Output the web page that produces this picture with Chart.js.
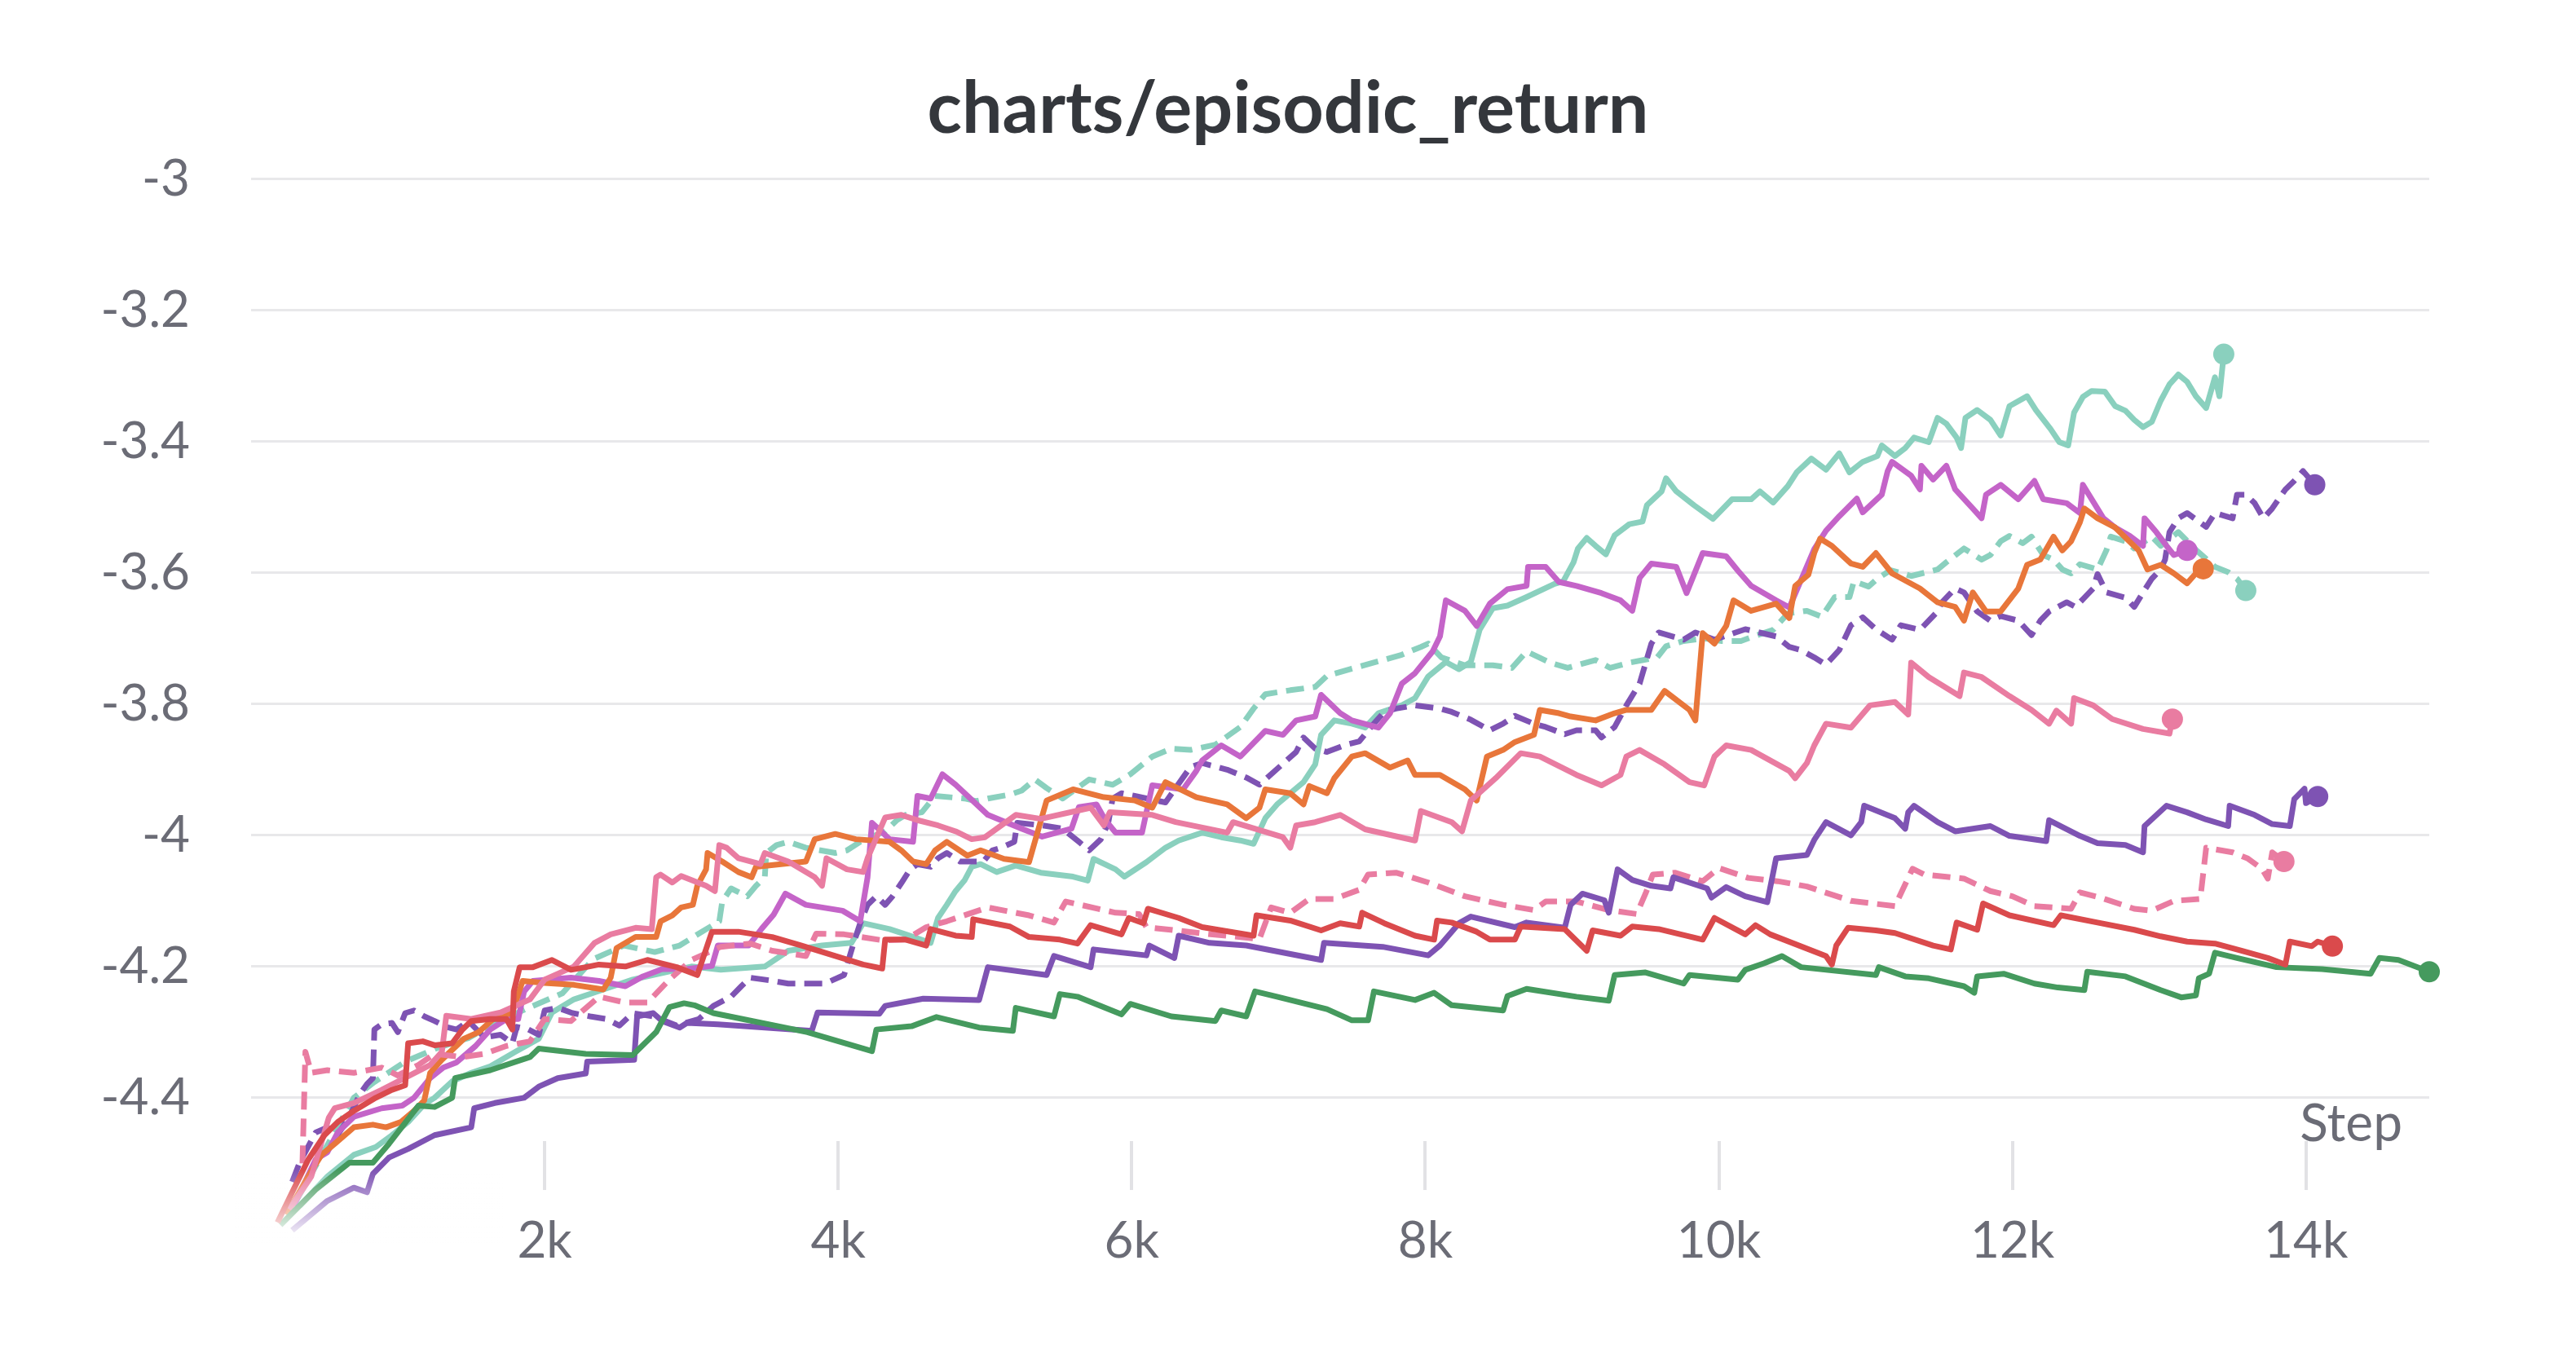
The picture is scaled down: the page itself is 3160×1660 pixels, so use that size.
<!DOCTYPE html>
<html>
<head>
<meta charset="utf-8">
<script src="https://cdn.jsdelivr.net/npm/chart.js@4.4.1/dist/chart.umd.min.js"></script>
<style>
  html, body { margin: 0; padding: 0; background: #ffffff; }
  canvas { display: block; }
</style>
</head>
<body>
<canvas id="chart" width="3160" height="1660"></canvas>
<script>
// [step, episodic return] pairs, one list per run
const tealSolid = [
  [330,-4.565],[520,-4.52],[700,-4.487],[850,-4.475],[960,-4.457],[1070,-4.437],[1180,-4.41],[1250,-4.4],
  [1370,-4.375],[1500,-4.362],[1630,-4.352],[1800,-4.33],[1960,-4.31],[2050,-4.27],[2200,-4.25],[2400,-4.235],
  [2600,-4.22],[2800,-4.21],[3000,-4.2],[3200,-4.205],[3500,-4.2],[3660,-4.176],[3890,-4.168],[4090,-4.164],
  [4170,-4.134],[4350,-4.143],[4460,-4.151],[4630,-4.164],[4680,-4.126],[4740,-4.106],[4800,-4.085],[4860,-4.069],
  [4910,-4.048],[4970,-4.044],[5080,-4.056],[5210,-4.046],[5380,-4.057],[5600,-4.063],[5700,-4.069],[5740,-4.036],
  [5890,-4.052],[5950,-4.063],[6100,-4.041],[6230,-4.019],[6320,-4.008],[6480,-3.996],[6610,-4.003],[6740,-4.008],
  [6830,-4.013],[6910,-3.974],[6990,-3.953],[7170,-3.919],[7250,-3.892],[7290,-3.847],[7380,-3.825],[7500,-3.83],
  [7590,-3.836],[7680,-3.814],[7840,-3.802],[7930,-3.791],[8020,-3.758],[8140,-3.736],[8230,-3.747],[8310,-3.736],
  [8370,-3.687],[8460,-3.654],[8560,-3.65],[8690,-3.637],[8880,-3.617],[8940,-3.613],[9010,-3.584],[9040,-3.563],
  [9100,-3.547],[9160,-3.559],[9230,-3.572],[9290,-3.543],[9390,-3.526],[9480,-3.522],[9510,-3.497],[9610,-3.476],
  [9640,-3.456],[9710,-3.476],[9830,-3.497],[9960,-3.518],[10090,-3.488],[10220,-3.488],[10280,-3.476],[10370,-3.493],
  [10470,-3.468],[10530,-3.447],[10630,-3.426],[10730,-3.443],[10820,-3.418],[10890,-3.447],[10980,-3.431],[11080,-3.422],
  [11110,-3.406],[11200,-3.422],[11270,-3.41],[11330,-3.394],[11430,-3.401],[11490,-3.364],[11550,-3.373],[11620,-3.394],
  [11650,-3.41],[11680,-3.364],[11760,-3.352],[11850,-3.367],[11920,-3.391],[11980,-3.346],[12100,-3.331],[12160,-3.352],
  [12260,-3.381],[12320,-3.401],[12380,-3.406],[12420,-3.356],[12480,-3.332],[12540,-3.323],[12630,-3.324],[12700,-3.346],
  [12770,-3.353],[12830,-3.367],[12890,-3.378],[12950,-3.37],[13010,-3.338],[13070,-3.313],[13130,-3.298],[13190,-3.309],
  [13250,-3.331],[13320,-3.349],[13380,-3.302],[13410,-3.331],[13440,-3.267]
];

const tealDashed = [
  [300,-4.56],[450,-4.5],[600,-4.44],[700,-4.4],[840,-4.376],[1050,-4.345],[1270,-4.324],[1480,-4.309],
  [1690,-4.283],[1900,-4.262],[2120,-4.241],[2330,-4.189],[2540,-4.168],[2750,-4.178],[2920,-4.168],[3050,-4.15],
  [3190,-4.131],[3210,-4.101],[3270,-4.081],[3380,-4.093],[3440,-4.077],[3500,-4.064],[3510,-4.027],[3580,-4.015],
  [3660,-4.01],[3780,-4.019],[3980,-4.027],[4060,-4.023],[4150,-4.01],[4230,-4.002],[4320,-3.994],[4400,-3.977],
  [4460,-3.969],[4570,-3.965],[4660,-3.94],[4860,-3.944],[4940,-3.948],[5020,-3.944],[5170,-3.938],[5250,-3.932],
  [5340,-3.915],[5420,-3.928],[5530,-3.944],[5710,-3.915],[5790,-3.919],[5870,-3.923],[5990,-3.907],[6140,-3.88],
  [6270,-3.868],[6400,-3.87],[6570,-3.862],[6740,-3.835],[6830,-3.807],[6910,-3.785],[7080,-3.779],[7250,-3.774],
  [7330,-3.757],[7500,-3.746],[7680,-3.735],[7840,-3.725],[7970,-3.713],[8020,-3.708],[8110,-3.729],[8270,-3.741],
  [8460,-3.741],[8590,-3.745],[8690,-3.72],[8850,-3.737],[8970,-3.745],[9160,-3.733],[9260,-3.745],[9390,-3.737],
  [9580,-3.729],[9640,-3.712],[9760,-3.704],[9900,-3.7],[10020,-3.704],[10150,-3.704],[10250,-3.696],[10370,-3.687],
  [10470,-3.662],[10600,-3.658],[10700,-3.667],[10790,-3.637],[10890,-3.637],[10920,-3.613],[11020,-3.621],[11080,-3.609],
  [11170,-3.596],[11310,-3.605],[11490,-3.595],[11550,-3.584],[11670,-3.563],[11790,-3.58],[11850,-3.573],[11920,-3.552],
  [11980,-3.544],[12070,-3.555],[12130,-3.545],[12210,-3.573],[12280,-3.58],[12340,-3.595],[12400,-3.601],[12460,-3.587],
  [12580,-3.595],[12640,-3.566],[12670,-3.545],[12770,-3.552],[12830,-3.563],[12950,-3.545],[13010,-3.559],[13130,-3.538],
  [13250,-3.565],[13380,-3.591],[13470,-3.599],[13530,-3.609],[13590,-3.627]
];

const purpleSolid = [
  [280,-4.602],[520,-4.557],[700,-4.537],[790,-4.544],[830,-4.516],[940,-4.491],[1070,-4.478],[1250,-4.457],
  [1500,-4.445],[1520,-4.416],[1660,-4.408],[1860,-4.4],[1960,-4.383],[2090,-4.37],[2280,-4.363],[2290,-4.345],
  [2610,-4.342],[2630,-4.276],[2740,-4.271],[2800,-4.283],[2920,-4.293],[2970,-4.286],[3180,-4.288],[3820,-4.298],
  [3860,-4.27],[4280,-4.272],[4320,-4.26],[4580,-4.249],[4960,-4.251],[5020,-4.201],[5420,-4.213],[5470,-4.184],
  [5720,-4.201],[5740,-4.174],[6100,-4.183],[6120,-4.168],[6290,-4.187],[6320,-4.153],[6530,-4.164],[6780,-4.168],
  [7290,-4.19],[7310,-4.164],[7710,-4.17],[8020,-4.183],[8100,-4.168],[8230,-4.134],[8310,-4.124],[8610,-4.14],
  [8690,-4.133],[8950,-4.141],[8990,-4.106],[9070,-4.089],[9220,-4.099],[9250,-4.118],[9310,-4.052],[9410,-4.068],
  [9540,-4.077],[9670,-4.081],[9690,-4.064],[9920,-4.081],[9950,-4.095],[10050,-4.079],[10180,-4.093],[10330,-4.102],
  [10390,-4.035],[10600,-4.03],[10650,-4.007],[10730,-3.98],[10900,-4.0],[10970,-3.98],[10990,-3.955],[11200,-3.974],
  [11270,-3.99],[11290,-3.965],[11330,-3.955],[11490,-3.98],[11610,-3.994],[11850,-3.986],[11980,-4.001],[12230,-4.009],
  [12250,-3.977],[12460,-4.001],[12580,-4.012],[12770,-4.015],[12890,-4.026],[12900,-3.986],[13050,-3.955],[13190,-3.965],
  [13320,-3.976],[13470,-3.986],[13480,-3.955],[13650,-3.969],[13770,-3.983],[13890,-3.986],[13920,-3.945],[13990,-3.929],
  [14000,-3.951],[14080,-3.941]
];

const purpleDashed = [
  [280,-4.528],[330,-4.499],[440,-4.453],[520,-4.445],[580,-4.46],[670,-4.429],[740,-4.395],[790,-4.379],
  [830,-4.37],[840,-4.296],[890,-4.288],[960,-4.286],[1000,-4.3],[1050,-4.271],[1110,-4.267],[1180,-4.276],
  [1250,-4.283],[1330,-4.292],[1400,-4.296],[1480,-4.283],[1590,-4.308],[1700,-4.304],[1780,-4.317],[1810,-4.292],
  [1890,-4.296],[1960,-4.304],[2000,-4.267],[2090,-4.263],[2190,-4.271],[2310,-4.276],[2420,-4.28],[2510,-4.29],
  [2600,-4.271],[2740,-4.276],[2900,-4.29],[3050,-4.28],[3150,-4.26],[3270,-4.246],[3340,-4.23],[3400,-4.217],
  [3530,-4.221],[3660,-4.226],[3790,-4.226],[3910,-4.226],[4040,-4.213],[4100,-4.168],[4150,-4.134],[4200,-4.106],
  [4260,-4.093],[4320,-4.106],[4370,-4.093],[4430,-4.073],[4490,-4.052],[4540,-4.044],[4630,-4.048],[4680,-4.035],
  [4740,-4.027],[4830,-4.04],[4990,-4.04],[5050,-4.023],[5110,-4.019],[5200,-4.01],[5220,-3.981],[5390,-3.985],
  [5530,-3.99],[5640,-4.01],[5710,-4.023],[5790,-4.006],[5840,-3.981],[5870,-3.944],[5930,-3.936],[6020,-3.94],
  [6230,-3.95],[6400,-3.896],[6480,-3.89],[6650,-3.9],[6780,-3.912],[6870,-3.923],[7120,-3.873],[7170,-3.851],
  [7250,-3.868],[7330,-3.873],[7460,-3.862],[7550,-3.857],[7630,-3.835],[7720,-3.812],[7800,-3.807],[7930,-3.802],
  [8100,-3.807],[8180,-3.812],[8310,-3.824],[8440,-3.84],[8530,-3.83],[8610,-3.818],[8740,-3.83],[8820,-3.835],
  [8950,-3.846],[9030,-3.84],[9160,-3.84],[9200,-3.851],[9290,-3.835],[9370,-3.802],[9460,-3.769],[9540,-3.708],
  [9590,-3.691],[9760,-3.702],[9840,-3.691],[9970,-3.702],[10180,-3.686],[10390,-3.697],[10480,-3.713],[10560,-3.718],
  [10650,-3.729],[10730,-3.74],[10820,-3.718],[10900,-3.68],[10980,-3.668],[11070,-3.686],[11180,-3.702],[11240,-3.68],
  [11370,-3.687],[11490,-3.659],[11520,-3.645],[11610,-3.624],[11670,-3.63],[11760,-3.659],[11850,-3.673],[11920,-3.666],
  [12040,-3.673],[12130,-3.695],[12190,-3.673],[12250,-3.659],[12370,-3.645],[12430,-3.652],[12490,-3.638],[12550,-3.624],
  [12580,-3.602],[12640,-3.63],[12770,-3.638],[12830,-3.652],[12890,-3.63],[12950,-3.609],[13010,-3.595],[13040,-3.58],
  [13070,-3.538],[13130,-3.517],[13190,-3.509],[13320,-3.53],[13380,-3.509],[13500,-3.517],[13530,-3.481],[13590,-3.481],
  [13650,-3.494],[13710,-3.517],[13770,-3.502],[13860,-3.473],[13920,-3.46],[13980,-3.445],[14060,-3.466]
];

const magentaSolid = [
  [290,-4.565],[440,-4.494],[520,-4.483],[590,-4.453],[700,-4.429],[890,-4.416],[1030,-4.412],[1110,-4.4],
  [1220,-4.37],[1310,-4.354],[1400,-4.346],[1530,-4.321],[1630,-4.296],[1740,-4.28],[1820,-4.28],[1860,-4.238],
  [1920,-4.222],[2180,-4.217],[2370,-4.222],[2550,-4.23],[2670,-4.215],[2800,-4.204],[2970,-4.204],[3140,-4.199],
  [3180,-4.168],[3390,-4.168],[3480,-4.142],[3560,-4.121],[3640,-4.089],[3780,-4.106],[4030,-4.115],[4150,-4.131],
  [4200,-4.064],[4230,-3.981],[4350,-4.006],[4510,-4.01],[4540,-3.94],[4630,-3.944],[4710,-3.907],[4800,-3.923],
  [5020,-3.969],[5250,-3.99],[5390,-4.002],[5590,-3.99],[5640,-3.957],[5760,-3.953],[5820,-3.977],[5890,-3.996],
  [6070,-3.996],[6140,-3.924],[6350,-3.93],[6440,-3.902],[6480,-3.886],[6610,-3.863],[6740,-3.88],[6910,-3.841],
  [7030,-3.847],[7120,-3.825],[7250,-3.819],[7290,-3.786],[7420,-3.814],[7500,-3.825],[7680,-3.836],[7760,-3.814],
  [7840,-3.769],[7930,-3.753],[8050,-3.72],[8100,-3.697],[8140,-3.642],[8270,-3.658],[8350,-3.681],[8440,-3.647],
  [8560,-3.625],[8690,-3.62],[8700,-3.591],[8820,-3.591],[8910,-3.614],[9030,-3.62],[9200,-3.631],[9330,-3.642],
  [9410,-3.658],[9460,-3.608],[9540,-3.586],[9710,-3.591],[9780,-3.631],[9890,-3.57],[10050,-3.575],[10130,-3.597],
  [10220,-3.62],[10390,-3.642],[10480,-3.653],[10650,-3.564],[10730,-3.536],[10820,-3.514],[10940,-3.487],[10980,-3.508],
  [11110,-3.481],[11150,-3.445],[11180,-3.431],[11310,-3.452],[11370,-3.473],[11380,-3.437],[11460,-3.458],[11550,-3.437],
  [11610,-3.473],[11730,-3.502],[11790,-3.517],[11820,-3.481],[11920,-3.466],[12040,-3.488],[12150,-3.46],[12210,-3.488],
  [12370,-3.494],[12460,-3.509],[12480,-3.466],[12620,-3.517],[12700,-3.531],[12800,-3.544],[12890,-3.559],[12900,-3.517],
  [12980,-3.538],[13050,-3.559],[13100,-3.573],[13190,-3.566]
];

const orangeSolid = [
  [240,-4.578],[410,-4.512],[480,-4.487],[570,-4.47],[700,-4.445],[830,-4.441],[920,-4.445],[1020,-4.437],
  [1110,-4.42],[1180,-4.404],[1220,-4.362],[1300,-4.342],[1450,-4.31],[1550,-4.3],[1650,-4.28],[1780,-4.27],
  [1850,-4.222],[2000,-4.225],[2200,-4.228],[2400,-4.235],[2450,-4.217],[2490,-4.172],[2620,-4.155],[2760,-4.155],
  [2790,-4.131],[2870,-4.122],[2930,-4.11],[3010,-4.106],[3040,-4.077],[3100,-4.052],[3110,-4.027],[3210,-4.04],
  [3320,-4.056],[3410,-4.064],[3440,-4.048],[3780,-4.04],[3840,-4.006],[3980,-3.998],[4120,-4.006],[4350,-4.01],
  [4430,-4.023],[4510,-4.04],[4600,-4.044],[4660,-4.023],[4740,-4.01],[4880,-4.031],[4970,-4.023],[5130,-4.036],
  [5300,-4.041],[5420,-3.947],[5600,-3.93],[5810,-3.942],[6020,-3.947],[6140,-3.958],[6230,-3.919],[6440,-3.942],
  [6650,-3.953],[6780,-3.974],[6870,-3.958],[6910,-3.93],[7080,-3.936],[7170,-3.953],[7210,-3.925],[7330,-3.936],
  [7380,-3.913],[7500,-3.88],[7590,-3.875],[7760,-3.897],[7880,-3.886],[7930,-3.908],[8100,-3.908],[8270,-3.93],
  [8350,-3.947],[8420,-3.88],[8530,-3.87],[8610,-3.858],[8740,-3.847],[8780,-3.809],[8910,-3.814],[8990,-3.819],
  [9160,-3.825],[9290,-3.814],[9370,-3.809],[9540,-3.809],[9630,-3.78],[9800,-3.809],[9840,-3.825],[9890,-3.692],
  [9970,-3.708],[10050,-3.681],[10100,-3.642],[10220,-3.658],[10390,-3.647],[10480,-3.669],[10520,-3.62],[10610,-3.603],
  [10650,-3.57],[10690,-3.548],[10770,-3.559],[10900,-3.586],[10980,-3.591],[11070,-3.57],[11180,-3.601],[11370,-3.624],
  [11490,-3.645],[11610,-3.652],[11670,-3.673],[11730,-3.63],[11820,-3.659],[11920,-3.659],[12040,-3.624],[12100,-3.588],
  [12190,-3.58],[12280,-3.545],[12340,-3.566],[12400,-3.552],[12460,-3.523],[12490,-3.502],[12580,-3.517],[12700,-3.531],
  [12860,-3.566],[12920,-3.595],[13010,-3.588],[13100,-3.601],[13190,-3.616],[13250,-3.601],[13300,-3.594]
];

const pinkSolid = [
  [260,-4.57],[410,-4.52],[530,-4.43],[570,-4.416],[700,-4.408],[890,-4.388],[1090,-4.365],[1220,-4.35],
  [1300,-4.33],[1330,-4.275],[1500,-4.28],[1700,-4.27],[1900,-4.25],[2000,-4.22],[2200,-4.2],[2340,-4.164],
  [2450,-4.151],[2620,-4.141],[2730,-4.143],[2760,-4.064],[2790,-4.06],[2870,-4.072],[2930,-4.062],[3100,-4.077],
  [3160,-4.085],[3190,-4.015],[3240,-4.019],[3320,-4.035],[3470,-4.044],[3500,-4.027],[3660,-4.04],[3840,-4.064],
  [3890,-4.077],[3920,-4.035],[4060,-4.052],[4170,-4.056],[4200,-4.035],[4320,-3.973],[4430,-3.969],[4540,-3.977],
  [4680,-3.985],[4800,-3.994],[4910,-4.006],[5000,-4.003],[5210,-3.969],[5380,-3.975],[5720,-3.958],[5810,-3.985],
  [5850,-3.965],[6140,-3.969],[6300,-3.98],[6650,-3.996],[6690,-3.98],[7030,-4.003],[7080,-4.019],[7120,-3.985],
  [7250,-3.98],[7420,-3.969],[7590,-3.991],[7930,-4.008],[7970,-3.963],[8180,-3.98],[8250,-3.994],[8310,-3.947],
  [8480,-3.913],[8650,-3.875],[8780,-3.88],[9030,-3.908],[9200,-3.924],[9330,-3.908],[9370,-3.88],[9460,-3.87],
  [9630,-3.892],[9800,-3.919],[9900,-3.924],[9970,-3.88],[10050,-3.863],[10220,-3.87],[10480,-3.902],[10520,-3.913],
  [10600,-3.89],[10650,-3.863],[10730,-3.83],[10900,-3.836],[11030,-3.802],[11200,-3.797],[11290,-3.816],[11310,-3.737],
  [11430,-3.759],[11640,-3.788],[11670,-3.752],[11790,-3.759],[11980,-3.788],[12130,-3.809],[12250,-3.83],[12300,-3.81],
  [12400,-3.83],[12420,-3.791],[12550,-3.802],[12680,-3.823],[12890,-3.838],[13070,-3.845],[13090,-3.823]
];

const pinkDashed = [
  [350,-4.5],[370,-4.33],[410,-4.362],[520,-4.358],[700,-4.362],[890,-4.354],[1000,-4.366],[1140,-4.35],
  [1250,-4.333],[1440,-4.338],[1590,-4.333],[1740,-4.321],[1900,-4.314],[2000,-4.28],[2180,-4.283],[2370,-4.246],
  [2550,-4.255],[2700,-4.255],[2850,-4.22],[3000,-4.19],[3200,-4.17],[3400,-4.165],[3550,-4.176],[3780,-4.184],
  [3850,-4.15],[4040,-4.151],[4300,-4.16],[4460,-4.159],[4600,-4.14],[4740,-4.131],[5020,-4.11],[5300,-4.122],
  [5470,-4.133],[5550,-4.101],[5890,-4.118],[6050,-4.12],[6100,-4.14],[6300,-4.145],[6500,-4.15],[6870,-4.158],
  [6950,-4.11],[7080,-4.118],[7210,-4.097],[7380,-4.097],[7550,-4.083],[7610,-4.06],[7800,-4.057],[8020,-4.072],
  [8270,-4.093],[8530,-4.106],[8740,-4.114],[8820,-4.101],[9030,-4.101],[9250,-4.114],[9440,-4.12],[9500,-4.089],
  [9550,-4.06],[9700,-4.057],[9890,-4.07],[10000,-4.05],[10200,-4.065],[10400,-4.07],[10600,-4.078],[10900,-4.1],
  [11200,-4.108],[11300,-4.06],[11320,-4.051],[11400,-4.06],[11670,-4.066],[11850,-4.085],[12000,-4.093],[12150,-4.108],
  [12400,-4.112],[12460,-4.087],[12600,-4.095],[12830,-4.112],[12950,-4.115],[13100,-4.1],[13280,-4.097],[13320,-4.019],
  [13500,-4.026],[13600,-4.035],[13700,-4.051],[13740,-4.066],[13770,-4.026],[13850,-4.04]
];

const redSolid = [
  [180,-4.59],[280,-4.544],[390,-4.494],[500,-4.457],[590,-4.437],[700,-4.42],[850,-4.4],[960,-4.388],
  [1050,-4.381],[1070,-4.317],[1170,-4.314],[1250,-4.32],[1370,-4.317],[1440,-4.296],[1500,-4.283],[1630,-4.28],
  [1740,-4.28],[1780,-4.296],[1790,-4.238],[1830,-4.201],[1920,-4.201],[2050,-4.19],[2180,-4.205],[2280,-4.201],
  [2370,-4.197],[2550,-4.2],[2700,-4.19],[2900,-4.201],[3040,-4.213],[3140,-4.147],[3320,-4.147],[3550,-4.155],
  [3750,-4.168],[3980,-4.184],[4170,-4.197],[4300,-4.203],[4320,-4.159],[4460,-4.159],[4600,-4.168],[4630,-4.143],
  [4800,-4.153],[4910,-4.155],[4920,-4.128],[5170,-4.139],[5300,-4.155],[5510,-4.159],[5630,-4.165],[5720,-4.137],
  [5930,-4.151],[5980,-4.126],[6080,-4.134],[6110,-4.112],[6320,-4.126],[6480,-4.14],[6830,-4.153],[6850,-4.122],
  [7080,-4.13],[7290,-4.145],[7420,-4.134],[7550,-4.139],[7570,-4.118],[7720,-4.134],[7930,-4.153],[8060,-4.159],
  [8080,-4.13],[8180,-4.133],[8350,-4.147],[8440,-4.159],[8610,-4.159],[8650,-4.139],[8950,-4.143],[9100,-4.176],
  [9140,-4.145],[9330,-4.153],[9410,-4.139],[9590,-4.143],[9890,-4.159],[9970,-4.126],[10180,-4.151],[10250,-4.137],
  [10350,-4.151],[10730,-4.184],[10770,-4.197],[10800,-4.168],[10880,-4.141],[11070,-4.145],[11200,-4.149],[11460,-4.168],
  [11580,-4.174],[11620,-4.133],[11760,-4.144],[11800,-4.104],[11980,-4.122],[12280,-4.137],[12330,-4.122],[12580,-4.133],
  [12830,-4.144],[13010,-4.154],[13190,-4.162],[13380,-4.165],[13560,-4.176],[13740,-4.187],[13860,-4.197],[13890,-4.162],
  [14040,-4.169],[14080,-4.162],[14180,-4.169]
];

const greenSolid = [
  [200,-4.594],[440,-4.54],[670,-4.499],[830,-4.499],[940,-4.47],[1140,-4.412],[1250,-4.414],[1370,-4.4],
  [1390,-4.37],[1630,-4.358],[1900,-4.338],[1960,-4.325],[2280,-4.333],[2600,-4.335],[2760,-4.3],[2850,-4.262],
  [2950,-4.256],[3020,-4.259],[3150,-4.271],[3790,-4.3],[4230,-4.329],[4260,-4.296],[4500,-4.291],[4670,-4.277],
  [4960,-4.293],[5190,-4.298],[5210,-4.263],[5470,-4.276],[5510,-4.242],[5630,-4.246],[5930,-4.273],[5990,-4.257],
  [6270,-4.276],[6570,-4.283],[6610,-4.267],[6780,-4.276],[6840,-4.238],[6990,-4.246],[7330,-4.265],[7500,-4.282],
  [7610,-4.282],[7650,-4.238],[7930,-4.251],[8060,-4.24],[8180,-4.259],[8530,-4.267],[8560,-4.245],[8690,-4.234],
  [9030,-4.246],[9250,-4.252],[9290,-4.213],[9500,-4.209],[9760,-4.226],[9800,-4.213],[10130,-4.22],[10180,-4.205],
  [10310,-4.195],[10430,-4.184],[10560,-4.201],[11070,-4.213],[11090,-4.201],[11270,-4.215],[11430,-4.218],[11670,-4.23],
  [11740,-4.24],[11760,-4.215],[11940,-4.211],[12150,-4.226],[12310,-4.232],[12490,-4.236],[12510,-4.208],[12770,-4.215],
  [13010,-4.236],[13150,-4.247],[13250,-4.244],[13270,-4.218],[13340,-4.211],[13380,-4.179],[13530,-4.187],[13800,-4.201],
  [14110,-4.204],[14440,-4.211],[14500,-4.187],[14630,-4.19],[14840,-4.208]
];

const xTicks = [2000, 4000, 6000, 8000, 10000, 12000, 14000];
const yTicks = [-3, -3.2, -3.4, -3.6, -3.8, -4, -4.2, -4.4];

const COLORS = {
  teal: "#8ad0be",
  purple: "#7e53b3",
  magenta: "#c464c8",
  orange: "#e8763a",
  pink: "#e97ca1",
  red: "#da4a4c",
  green: "#459a5e",
};

const RUNS = [
  { data: redSolid, color: COLORS.red },
  { data: greenSolid, color: COLORS.green },
  { data: purpleSolid, color: COLORS.purple },
  { data: pinkDashed, color: COLORS.pink, dashed: true },
  { data: pinkSolid, color: COLORS.pink },
  { data: orangeSolid, color: COLORS.orange },
  { data: magentaSolid, color: COLORS.magenta },
  { data: purpleDashed, color: COLORS.purple, dashed: true },
  { data: tealDashed, color: COLORS.teal, dashed: true },
  { data: tealSolid, color: COLORS.teal },
];

const TICK_COLOR = "#6b6c76";
const FONT = "Lato";

// white wash over the low start of the curves, like the reference
const bottomFade = {
  id: "bottomFade",
  afterDatasetsDraw: (chart) => {
    const { ctx, chartArea } = chart;
    const top = chartArea.bottom + 35;
    const g = ctx.createLinearGradient(0, top, 0, chartArea.bottom + 125);
    g.addColorStop(0, "rgba(255,255,255,0)");
    g.addColorStop(1, "rgba(255,255,255,1)");
    ctx.save();
    ctx.fillStyle = g;
    ctx.fillRect(chartArea.left - 20, top, 330, 110);
    ctx.restore();
  },
};

const stepLabel = {
  id: "stepLabel",
  afterDraw: (chart) => {
    const { ctx, chartArea } = chart;
    ctx.save();
    ctx.font = `64px ${FONT}`;
    ctx.fillStyle = TICK_COLOR;
    ctx.textAlign = "right";
    ctx.textBaseline = "alphabetic";
    ctx.fillText("Step", chartArea.right - 33, chartArea.bottom);
    ctx.restore();
  },
};

const lastPoint = (ctx) =>
  ctx.dataIndex === ctx.dataset.data.length - 1 ? 13 : 0;

new Chart(document.getElementById("chart"), {
  type: "line",
  data: {
    datasets: RUNS.map((run) => ({
      data: run.data.map(([x, y]) => ({ x, y })),
      borderColor: run.color,
      backgroundColor: run.color,
      borderWidth: 7,
      borderDash: run.dashed ? [22, 11] : [],
      borderJoinStyle: "round",
      tension: 0,
      fill: false,
      clip: false,
      pointRadius: lastPoint,
      pointHoverRadius: 0,
      pointBorderWidth: 0,
      pointBackgroundColor: run.color,
    })),
  },
  options: {
    responsive: false,
    devicePixelRatio: 1,
    animation: false,
    layout: { padding: 0 },
    plugins: {
      legend: { display: false },
      tooltip: { enabled: false },
      title: {
        display: true,
        text: "charts/episodic_return",
        color: "#34373c",
        font: { family: FONT, size: 88, weight: "bold", lineHeight: 1.2 },
        padding: { top: 82, bottom: 32 },
      },
    },
    scales: {
      x: {
        type: "linear",
        min: 0,
        max: 14840,
        afterFit: (scale) => { scale.height = 260; },
        afterBuildTicks: (scale) => {
          scale.ticks = xTicks.map((value) => ({ value }));
        },
        border: { display: false },
        grid: {
          drawOnChartArea: false,
          drawTicks: true,
          tickLength: 60,
          color: "#e2e2e5",
          lineWidth: 4,
        },
        ticks: {
          maxRotation: 0,
          autoSkip: false,
          padding: 26,
          color: TICK_COLOR,
          font: { family: FONT, size: 62 },
          callback: (v) => `${v / 1000}k`,
        },
      },
      y: {
        type: "linear",
        min: -4.466,
        max: -3,
        afterFit: (scale) => { scale.width = 308; },
        afterBuildTicks: (scale) => {
          scale.ticks = yTicks.map((value) => ({ value }));
        },
        border: { display: false },
        grid: {
          drawTicks: false,
          color: "#e8e8ea",
          lineWidth: 3,
        },
        ticks: {
          padding: 75,
          color: TICK_COLOR,
          font: { family: FONT, size: 62 },
          callback: (v) => String(Number(v.toFixed(1))),
        },
      },
      // empty right-hand gutter so the title centres on the whole canvas
      gutter: {
        type: "linear",
        position: "right",
        afterFit: (scale) => { scale.width = 180; },
        grid: { display: false },
        border: { display: false },
        ticks: { display: false },
      },
    },
  },
  plugins: [bottomFade, stepLabel],
});
</script>
</body>
</html>
